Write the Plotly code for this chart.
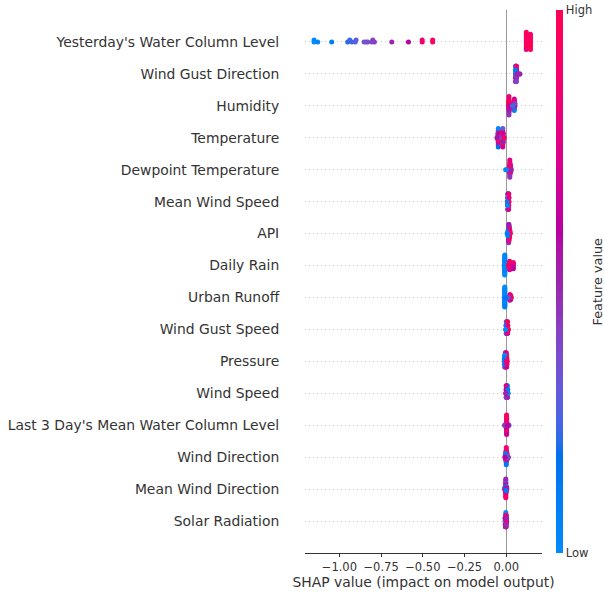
import numpy as np
import plotly.graph_objects as go

# Feature names, most important first (top row of the swarm)
feature_names = [
    "Yesterday's Water Column Level", "Wind Gust Direction", "Humidity", "Temperature",
    "Dewpoint Temperature", "Mean Wind Speed", "API", "Daily Rain", "Urban Runoff",
    "Wind Gust Speed", "Pressure", "Wind Speed", "Last 3 Day's Mean Water Column Level",
    "Wind Direction", "Mean Wind Direction", "Solar Radiation",
]

# SHAP values and normalised feature values (0 = low, 1 = high) per feature
ywcl_shap = [-1.152, -1.152, -1.13, -1.046, -0.95, -0.938, -0.925, -0.905, -0.9, -0.852,
             -0.84, -0.83, -0.805, -0.8, -0.79, -0.686, -0.586, -0.504, -0.504, -0.441,
             -0.441, 0.12, 0.145, 0.12, 0.145, 0.12, 0.145, 0.12, 0.145, 0.12,
             0.145, 0.12, 0.145, 0.12, 0.145, 0.12, 0.145, 0.12, 0.145, 0.12]
ywcl_val = [0.0, 0.02, 0.04, 0.07, 0.2, 0.22, 0.24, 0.27, 0.28, 0.32,
            0.34, 0.36, 0.38, 0.4, 0.41, 0.5, 0.6, 0.84, 0.86, 0.9,
            0.92, 0.95, 0.98, 0.9, 1.0, 0.97, 0.93, 0.88, 1.0, 0.96,
            0.99, 0.92, 0.85, 1.0, 0.94, 0.97, 0.9, 0.8, 0.96, 0.99]

wgd_shap = [0.058, 0.058, 0.058, 0.058, 0.058, 0.056, 0.056, 0.056, 0.056, 0.056,
            0.057, 0.057, 0.057, 0.057, 0.057, 0.059, 0.059, 0.059, 0.059, 0.059,
            0.06, 0.06, 0.06, 0.06, 0.06, 0.061, 0.061, 0.061, 0.061, 0.062,
            0.062, 0.062, 0.055, 0.055, 0.064, 0.067, 0.07, 0.075, 0.08, 0.082]
wgd_val = [0.85, 0.7, 0.95, 0.1, 0.6, 0.9, 0.05, 0.75, 0.0, 0.45,
           0.8, 0.12, 0.65, 0.08, 0.5, 0.95, 0.75, 0.55, 0.9, 0.45,
           0.7, 0.9, 0.5, 0.8, 0.4, 0.65, 0.95, 0.5, 0.85, 0.75,
           0.6, 0.45, 0.2, 0.1, 0.5, 0.45, 0.55, 0.48, 0.42, 0.5]

hum_shap = [0.016, 0.016, 0.016, 0.016, 0.016, 0.016, 0.016, 0.016, 0.016, 0.014,
            0.014, 0.014, 0.014, 0.018, 0.018, 0.018, 0.018, 0.018, 0.02, 0.02,
            0.02, 0.048, 0.048, 0.048, 0.048, 0.048, 0.048, 0.046, 0.046, 0.046,
            0.05, 0.05, 0.05, 0.05, 0.052, 0.052, 0.025, 0.03, 0.036, 0.04]
hum_val = [0.9, 1.0, 0.7, 0.85, 0.6, 0.95, 0.5, 0.8, 0.45, 0.85,
           0.75, 0.55, 0.9, 0.95, 0.8, 0.6, 1.0, 0.5, 0.7, 0.9,
           0.55, 0.1, 0.85, 0.45, 0.95, 0.05, 0.7, 0.5, 0.15, 0.9,
           0.3, 1.0, 0.2, 0.8, 0.55, 0.4, 0.75, 0.6, 0.35, 0.25]

temp_shap = [-0.048, -0.048, -0.048, -0.048, -0.048, -0.048, -0.048, -0.048, -0.048, -0.05,
             -0.05, -0.05, -0.05, -0.045, -0.045, -0.045, -0.045, -0.021, -0.021, -0.021,
             -0.021, -0.021, -0.021, -0.021, -0.021, -0.021, -0.024, -0.024, -0.024, -0.024,
             -0.018, -0.018, -0.018, -0.018, -0.018, -0.035, -0.03, -0.04, -0.012, -0.056]
temp_val = [0.9, 0.05, 0.1, 0.85, 0.6, 1.0, 0.75, 0.0, 0.15, 0.7,
            0.95, 0.5, 0.2, 0.8, 0.55, 0.9, 0.65, 1.0, 0.85, 0.7,
            0.05, 0.95, 0.6, 0.9, 0.3, 0.75, 0.65, 0.9, 0.45, 1.0,
            0.85, 0.1, 0.95, 0.7, 0.5, 0.6, 0.8, 0.4, 0.9, 0.55]

dew_shap = [0.021, 0.021, 0.021, 0.021, 0.021, 0.021, 0.021, 0.021, 0.021, 0.021,
            0.019, 0.019, 0.019, 0.019, 0.023, 0.023, 0.023, 0.023, 0.023, 0.023,
            0.025, 0.025, 0.025, 0.025, 0.017, 0.017, 0.017, 0.027, 0.027, 0.027,
            0.022, 0.022, 0.02, 0.02, 0.014, 0.012, 0.03, 0.008, 0.004, -0.004]
dew_val = [0.85, 0.95, 0.7, 1.0, 0.6, 0.9, 0.55, 0.8, 0.45, 0.75,
           0.9, 0.65, 0.5, 1.0, 0.8, 0.95, 0.6, 0.7, 0.45, 0.9,
           0.55, 0.85, 0.4, 0.75, 0.95, 0.7, 0.5, 0.6, 0.45, 0.8,
           0.88, 0.65, 0.72, 0.98, 0.85, 0.9, 0.5, 0.6, 0.3, 0.02]

mws_shap = [0.009, 0.009, 0.009, 0.009, 0.009, 0.01, 0.01, 0.01, 0.01, 0.01,
            0.011, 0.011, 0.011, 0.011, 0.011, 0.012, 0.012, 0.012, 0.012, 0.012,
            0.013, 0.013, 0.013, 0.013, 0.013, 0.014, 0.014, 0.014, 0.014, 0.014,
            0.015, 0.015, 0.015, 0.015, 0.008, 0.008, 0.008, 0.016, 0.016, 0.006]
mws_val = [0.3, 0.1, 0.45, 0.05, 0.5, 0.4, 0.2, 0.6, 0.15, 0.35,
           0.55, 0.8, 0.3, 0.9, 0.25, 0.7, 0.45, 0.85, 0.35, 0.95,
           0.6, 0.9, 0.5, 1.0, 0.4, 0.85, 0.55, 0.95, 0.65, 0.75,
           0.9, 0.7, 1.0, 0.8, 0.1, 0.25, 0.0, 0.95, 0.85, 0.2]

api_shap = [0.014, 0.014, 0.014, 0.014, 0.014, 0.014, 0.014, 0.014, 0.014, 0.016,
            0.016, 0.016, 0.016, 0.016, 0.016, 0.016, 0.016, 0.012, 0.012, 0.012,
            0.012, 0.018, 0.018, 0.018, 0.018, 0.018, 0.018, 0.02, 0.02, 0.02,
            0.02, 0.01, 0.01, 0.01, 0.022, 0.022, 0.013, 0.024, 0.008, 0.005]
api_val = [0.4, 0.1, 0.55, 0.05, 0.35, 0.15, 0.6, 0.2, 0.45, 0.5,
           0.3, 0.7, 0.25, 0.65, 0.4, 0.75, 0.55, 0.1, 0.0, 0.3,
           0.15, 0.85, 0.6, 0.9, 0.45, 0.95, 0.5, 0.9, 0.7, 1.0,
           0.8, 0.05, 0.2, 0.1, 0.95, 0.85, 0.25, 0.9, 0.0, 0.1]

rain_shap = [-0.009, -0.009, -0.009, -0.009, -0.009, -0.009, -0.009, -0.009, -0.009, -0.009,
             -0.009, -0.009, -0.009, -0.009, -0.009, -0.009, -0.009, -0.009, -0.009, -0.009,
             -0.012, 0.02, 0.02, 0.02, 0.02, 0.02, 0.02, 0.02, 0.02, 0.02,
             0.042, 0.042, 0.042, 0.042, 0.042, 0.042, 0.042, 0.03, 0.035, 0.012]
rain_val = [0.0, 0.02, 0.0, 0.05, 0.0, 0.03, 0.08, 0.0, 0.1, 0.02,
            0.0, 0.06, 0.0, 0.04, 0.12, 0.0, 0.02, 0.07, 0.0, 0.05,
            0.0, 0.95, 0.85, 1.0, 0.9, 0.8, 0.98, 0.88, 0.92, 0.75,
            0.55, 0.7, 0.45, 0.85, 0.5, 0.9, 0.6, 0.95, 0.65, 0.9]

runoff_shap = [-0.009, -0.009, -0.009, -0.009, -0.009, -0.009, -0.009, -0.009, -0.009, -0.009,
               -0.009, -0.009, -0.009, -0.009, -0.009, -0.009, -0.009, -0.009, -0.009, -0.009,
               -0.009, -0.009, 0.022, 0.022, 0.022, 0.022, 0.022, 0.022, 0.022, 0.026,
               0.026, 0.026, 0.026, 0.026, 0.03, 0.018, 0.015, 0.012, -0.012, -0.005]
runoff_val = [0.0, 0.03, 0.0, 0.06, 0.0, 0.02, 0.1, 0.0, 0.04, 0.0,
              0.08, 0.01, 0.0, 0.05, 0.0, 0.02, 0.12, 0.0, 0.03, 0.0,
              0.07, 0.0, 0.85, 1.0, 0.7, 0.9, 0.6, 0.95, 0.75, 0.9,
              0.65, 1.0, 0.8, 0.55, 0.95, 0.7, 0.5, 0.35, 0.0, 0.15]

wgs_shap = [0.0, 0.0, 0.0, 0.0, 0.002, 0.002, 0.002, 0.002, 0.004, 0.004,
            0.004, 0.004, 0.006, 0.006, 0.006, 0.006, 0.008, 0.008, 0.008, 0.008,
            0.001, 0.001, 0.001, 0.003, 0.003, 0.003, 0.005, 0.005, 0.005, 0.007,
            0.007, 0.007, -0.002, -0.002, 0.01, 0.01, 0.009, 0.011, 0.012, -0.004]
wgs_val = [0.5, 0.1, 0.7, 0.3, 0.6, 0.4, 0.85, 0.2, 0.45, 0.75,
           0.15, 0.9, 0.8, 0.5, 0.95, 0.35, 0.65, 0.9, 0.55, 1.0,
           0.35, 0.55, 0.05, 0.7, 0.25, 0.5, 0.6, 0.85, 0.4, 0.9,
           0.45, 0.75, 0.1, 0.2, 0.95, 0.8, 0.85, 0.9, 1.0, 0.0]

pres_shap = [-0.01, -0.01, -0.01, -0.01, -0.01, -0.006, -0.006, -0.006, -0.006, -0.006,
             -0.006, -0.003, -0.003, -0.003, -0.003, -0.003, -0.003, 0.0, 0.0, 0.0,
             0.0, 0.0, 0.0, 0.002, 0.002, 0.002, 0.002, 0.002, -0.008, -0.008,
             -0.008, -0.008, 0.004, 0.004, 0.004, -0.012, -0.012, 0.006, -0.001, 0.001]
pres_val = [0.05, 0.0, 0.2, 0.1, 0.3, 0.4, 0.15, 0.6, 0.05, 0.75,
            0.25, 0.7, 0.85, 0.5, 0.95, 0.35, 0.9, 0.8, 0.6, 1.0,
            0.55, 0.9, 0.7, 0.95, 0.75, 0.85, 1.0, 0.65, 0.2, 0.45,
            0.1, 0.0, 0.9, 1.0, 0.8, 0.0, 0.1, 0.95, 0.6, 0.85]

ws_shap = [0.001, 0.001, 0.001, 0.001, 0.003, 0.003, 0.003, 0.003, 0.005, 0.005,
           0.005, 0.005, 0.007, 0.007, 0.007, 0.007, -0.001, -0.001, -0.001, -0.001,
           0.002, 0.002, 0.002, 0.004, 0.004, 0.004, 0.006, 0.006, 0.006, 0.008,
           0.008, 0.008, 0.0, 0.0, 0.009, 0.009, 0.01, 0.011, -0.003, -0.002]
ws_val = [0.6, 0.8, 0.4, 0.9, 0.7, 0.85, 0.45, 0.1, 0.3, 0.9,
          0.5, 0.05, 0.15, 0.7, 0.4, 0.0, 0.55, 0.95, 0.35, 0.75,
          0.65, 1.0, 0.5, 0.2, 0.8, 0.45, 0.1, 0.6, 0.4, 0.05,
          0.3, 0.5, 0.85, 0.6, 0.2, 0.1, 0.15, 0.0, 0.7, 0.5]

l3d_shap = [0.002, 0.002, 0.002, 0.002, 0.002, 0.002, 0.002, 0.002, 0.002, 0.002,
            0.002, 0.002, 0.002, 0.002, 0.002, 0.002, 0.002, 0.002, 0.0, 0.0,
            0.0, 0.0, 0.0, 0.004, 0.004, 0.004, 0.004, 0.004, 0.006, 0.006,
            0.006, -0.002, -0.002, -0.002, -0.01, -0.008, 0.016, 0.014, 0.01, 0.008]
l3d_val = [0.95, 0.85, 1.0, 0.9, 0.8, 0.98, 0.88, 0.75, 0.92, 0.85,
           1.0, 0.7, 0.9, 0.95, 0.8, 0.88, 0.65, 0.93, 0.9, 0.7,
           1.0, 0.8, 0.6, 0.85, 0.95, 0.75, 0.9, 0.55, 0.7, 0.5,
           0.9, 0.8, 0.95, 0.6, 0.4, 0.45, 0.38, 0.42, 0.5, 0.6]

wd_shap = [0.0, 0.0, 0.0, 0.0, 0.0, 0.0, 0.0, 0.0, 0.0, 0.0,
           0.002, 0.002, 0.002, 0.002, 0.002, 0.002, -0.002, -0.002, -0.002, -0.002,
           -0.002, -0.002, 0.004, 0.004, 0.004, 0.004, -0.004, -0.004, -0.004, -0.004,
           0.006, 0.006, 0.006, -0.006, -0.006, 0.009, 0.011, 0.012, 0.008, -0.008]
wd_val = [0.9, 0.8, 0.7, 1.0, 0.6, 0.95, 0.85, 0.75, 0.1, 0.9,
          0.85, 0.95, 0.65, 0.9, 0.05, 1.0, 0.8, 0.7, 0.9, 0.6,
          0.15, 0.95, 0.75, 0.9, 0.55, 1.0, 0.85, 0.65, 0.95, 0.2,
          0.5, 0.4, 0.9, 0.7, 0.1, 0.45, 0.4, 0.5, 0.35, 0.6]

mwd_shap = [-0.003, -0.003, -0.003, -0.003, -0.003, -0.003, -0.003, -0.003, -0.003, -0.003,
            -0.003, -0.003, -0.003, -0.003, -0.005, -0.005, -0.005, -0.005, -0.005, -0.001,
            -0.001, -0.001, -0.001, -0.001, -0.007, -0.007, -0.007, 0.001, 0.001, 0.001,
            -0.009, -0.009, 0.003, 0.003, -0.004, -0.004, -0.004, -0.002, -0.002, -0.002]
mwd_val = [0.9, 0.5, 0.85, 0.45, 0.95, 0.4, 0.1, 0.55, 1.0, 0.6,
           0.8, 0.35, 0.9, 0.5, 0.85, 0.05, 0.95, 0.6, 0.75, 0.9,
           0.45, 1.0, 0.2, 0.7, 0.8, 0.3, 0.95, 0.6, 0.85, 0.4,
           0.9, 0.15, 0.5, 0.75, 0.95, 0.0, 0.65, 0.8, 0.55, 0.1]

solar_shap = [-0.003, -0.003, -0.003, -0.003, -0.003, -0.003, -0.002, -0.002, -0.002, -0.002,
              -0.002, -0.004, -0.004, -0.004, -0.004, -0.004, -0.001, -0.001, -0.001, -0.001,
              -0.001, -0.005, -0.005, -0.005, -0.005, -0.005, 0.0, 0.0, 0.0, 0.0,
              -0.006, -0.006, -0.006, 0.001, 0.001, 0.001, -0.007, -0.007, 0.002, 0.002]
solar_val = [0.8, 0.1, 0.6, 0.05, 0.45, 0.0, 0.9, 0.2, 0.55, 0.15,
             0.4, 0.75, 0.3, 0.95, 0.1, 0.5, 0.85, 0.65, 0.45, 0.25,
             0.9, 0.6, 0.05, 0.8, 0.35, 0.5, 0.95, 0.7, 0.4, 0.85,
             0.55, 0.2, 0.75, 0.9, 0.6, 0.45, 0.3, 0.65, 0.8, 0.5]

shap_rows = [ywcl_shap, wgd_shap, hum_shap, temp_shap, dew_shap, mws_shap, api_shap,
             rain_shap, runoff_shap, wgs_shap, pres_shap, ws_shap, l3d_shap, wd_shap,
             mwd_shap, solar_shap]
value_rows = [ywcl_val, wgd_val, hum_val, temp_val, dew_val, mws_val, api_val,
              rain_val, runoff_val, wgs_val, pres_val, ws_val, l3d_val, wd_val,
              mwd_val, solar_val]

x_tick_vals = [-1.0, -0.75, -0.5, -0.25, 0.0]
x_tick_text = ["\u22121.00", "\u22120.75", "\u22120.50", "\u22120.25", "0.00"]


def lch_to_rgb(l, c, h):
    """CIE LCh (hue in radians, D65) -> sRGB tuple in 0..255."""
    a, b = c * np.cos(h), c * np.sin(h)
    fy = (l + 16.0) / 116.0
    fx, fz = fy + a / 500.0, fy - b / 200.0

    def finv(t):
        return t ** 3 if t > 0.2068966 else (t - 16.0 / 116.0) / 7.787

    xyz = np.array([0.95047 * finv(fx), finv(fy), 1.08883 * finv(fz)])
    m = np.array([[3.2406, -1.5372, -0.4986],
                  [-0.9689, 1.8758, 0.0415],
                  [0.0557, -0.2040, 1.0570]])
    lin = m @ xyz
    rgb = np.where(lin > 0.0031308, 1.055 * np.power(np.clip(lin, 0, None), 1 / 2.4) - 0.055, 12.92 * lin)
    rgb = np.clip(rgb, 0, 1)
    return tuple(int(round(v * 255)) for v in rgb)


# Perceptual blue -> red colour scale (through purple) built in LCh space
blue_lch = (54.0, 70.0, 4.6588)
red_lch = (54.0, 90.0, 0.35470565 + 2 * np.pi)
l_mid = 40.0
nsteps = 100
l_vals = list(np.linspace(blue_lch[0], l_mid, nsteps // 2)) + list(np.linspace(l_mid, red_lch[0], nsteps // 2))
c_vals = np.linspace(blue_lch[1], red_lch[1], nsteps)
h_vals = np.linspace(blue_lch[2], red_lch[2], nsteps)
colorscale = []
for p, l, c, h in zip(np.linspace(0, 1, nsteps), l_vals, c_vals, h_vals):
    r, g, b = lch_to_rgb(l, c, h)
    colorscale.append([float(p), f"rgb({r},{g},{b})"])


def swarm_offsets(shaps, row_height=0.4, nbins=100):
    """Vertical offsets that stack points falling into the same value bin."""
    s = np.asarray(shaps, dtype=float)
    quant = np.round(nbins * (s - s.min()) / (s.max() - s.min() + 1e-8))
    order = np.argsort(quant, kind="stable")
    ys = np.zeros(len(s))
    layer, last_bin = 0, None
    for i in order:
        if quant[i] != last_bin:
            layer = 0
        ys[i] = np.ceil(layer / 2) * ((layer % 2) * 2 - 1)
        layer += 1
        last_bin = quant[i]
    ys *= 0.9 * (row_height / np.max(ys + 1))
    return ys


n_feat = len(feature_names)
xs, ys, cs = [], [], []
for rank, (s, v) in enumerate(zip(shap_rows, value_rows)):
    pos = n_feat - 1 - rank
    off = swarm_offsets(s)
    xs.extend(s)
    ys.extend(pos + off)
    cs.extend(v)

fig = go.Figure()
fig.add_trace(go.Scatter(
    x=xs, y=ys, mode="markers",
    marker=dict(
        size=5, color=cs, colorscale=colorscale, cmin=0, cmax=1,
        line=dict(width=0),
        colorbar=dict(
            thickness=6.5, len=543, lenmode="pixels",
            x=1.0604, xanchor="left", xpad=0, ypad=0,
            y=0.5, yanchor="middle",
            outlinewidth=0, ticks="",
            tickvals=[0, 1], ticktext=["Low", "High"],
            tickfont=dict(size=11.5, color="#333333", family="DejaVu Sans"),
        ),
    ),
    hoverinfo="skip", showlegend=False,
))

# Colour bar caption, rotated, at the far right
fig.add_annotation(
    text="Feature value", xref="paper", yref="paper",
    x=1.236, y=0.5, xanchor="center", yanchor="middle",
    textangle=-90, showarrow=False,
    font=dict(size=12.8, color="#333333", family="DejaVu Sans"),
)

fig.update_layout(
    width=604, height=593,
    margin=dict(l=305, r=62, t=10, b=40, autoexpand=False),
    plot_bgcolor="white", paper_bgcolor="white",
    font=dict(family="DejaVu Sans", color="#333333"),
    showlegend=False,
)
fig.update_xaxes(
    range=[-1.206, 0.214], tickvals=x_tick_vals, ticktext=x_tick_text,
    ticks="outside", ticklen=3.5, tickwidth=0.8, tickcolor="#333333",
    showline=True, linecolor="#333333", linewidth=0.8, mirror=False,
    showgrid=False, zeroline=True, zerolinecolor="#999999", zerolinewidth=1.3,
    tickfont=dict(size=11.5, color="#333333"),
    title=dict(text="SHAP value (impact on model output)", font=dict(size=13.9, color="#333333"), standoff=4),
)
fig.update_yaxes(
    range=[-1, n_feat], tickvals=list(range(n_feat)), ticktext=feature_names[::-1],
    showgrid=True, gridcolor="#cccccc", gridwidth=0.6, griddash="1px,3px",
    zeroline=False, showline=False,
    ticks="outside", ticklen=22, tickcolor="rgba(0,0,0,0)",
    tickfont=dict(size=13.9, color="#333333"),
)

fig.write_html("out.html")
